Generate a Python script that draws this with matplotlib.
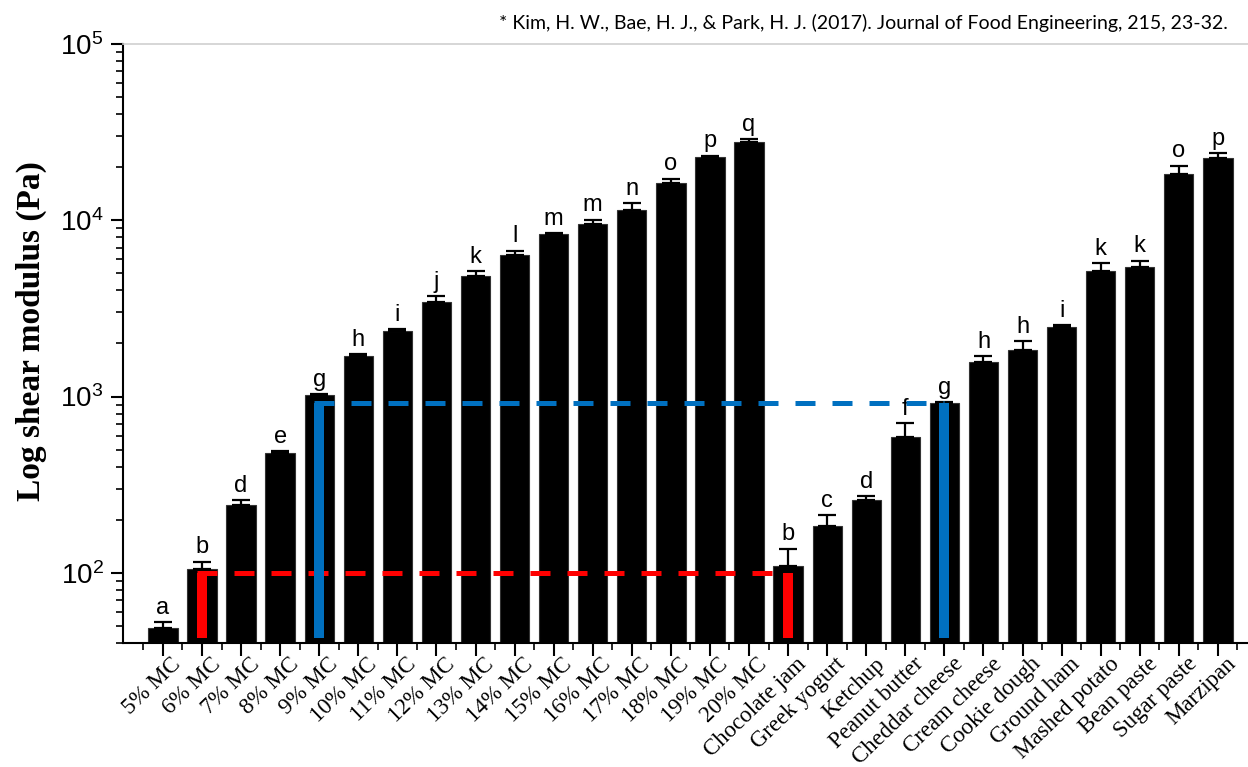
import numpy as np
import matplotlib
matplotlib.use('Agg')
import matplotlib.pyplot as plt
from matplotlib.ticker import LogLocator, FixedLocator, NullFormatter
import matplotlib.transforms as mtransforms

plt.rcParams['mathtext.default'] = 'regular'

# moisture content series
mc_labels = ['5% MC', '6% MC', '7% MC', '8% MC', '9% MC', '10% MC', '11% MC', '12% MC',
             '13% MC', '14% MC', '15% MC', '16% MC', '17% MC', '18% MC', '19% MC', '20% MC']
mc_vals = [48.7, 104.5, 241, 481, 1018, 1698, 2350, 3440, 4820, 6310, 8320, 9510,
           11370, 16320, 22910, 27720]
mc_err = [4, 11, 18, 9, 15, 40, 70, 260, 320, 420, 100, 550, 1100, 870, 300, 1000]
mc_letters = ['a', 'b', 'd', 'e', 'g', 'h', 'i', 'j', 'k', 'l', 'm', 'm', 'n', 'o', 'p', 'q']

# commercial foods
food_labels = ['Chocolate jam', 'Greek yogurt', 'Ketchup', 'Peanut butter', 'Cheddar cheese',
               'Cream cheese', 'Cookie dough', 'Ground ham', 'Mashed potato', 'Bean paste',
               'Sugar paste', 'Marzipan']
food_vals = [110, 184, 258, 593, 916, 1578, 1829, 2490, 5160, 5400, 18230, 22580]
food_err = [27, 28, 14, 113, 15, 120, 235, 40, 570, 510, 2200, 1400]
food_letters = ['b', 'c', 'd', 'f', 'g', 'h', 'h', 'i', 'k', 'k', 'o', 'p']

labels = mc_labels + food_labels
vals = np.array(mc_vals + food_vals)
errs = np.array(mc_err + food_err)
letters = mc_letters + food_letters
x = np.arange(len(labels))

# matching pairs: (MC sample, food sample, level)
red_pair = ('6% MC', 'Chocolate jam', 100)
blue_pair = ('9% MC', 'Cheddar cheese', 916)

fig = plt.figure(figsize=(12.48, 7.67), dpi=100)
ax = fig.add_axes([0.0986, 0.1617, 0.9014, 0.781])

ax.bar(x, vals, width=0.75, color='black', edgecolor='#333333', linewidth=0.8, zorder=2)
ax.errorbar(x, vals, yerr=[np.zeros_like(errs), errs], fmt='none', ecolor='black',
            elinewidth=1.6, capsize=6.8, capthick=1.6, zorder=3)

ax.set_yscale('log')
ax.set_ylim(40, 1e5)
ax.set_xlim(-1.02, 27.77)

# letters above bars
off = mtransforms.offset_copy(ax.transData, fig=fig, x=0, y=6, units='points')
for xi, v, e, s in zip(x, vals, errs, letters):
    ax.text(xi, v + e, s, transform=off, ha='center', va='baseline',
            fontsize=17, family='Liberation Sans', zorder=4)

# red and blue guide lines
y_low = 42.5
for (a, b, lvl), col in [(red_pair, '#ff0000'), (blue_pair, '#0070c0')]:
    xa = labels.index(a)
    xb = labels.index(b)
    ax.plot([xa - 0.13, xb], [lvl, lvl], color=col, lw=3.6,
            linestyle=(0, (4, 3.4)), zorder=5)
    ax.vlines([xa, xb], y_low, lvl, color=col, lw=7.2, zorder=5)

# axes styling
for side in ['left', 'bottom']:
    ax.spines[side].set_linewidth(1.5)
ax.spines['right'].set_visible(False)
ax.spines['top'].set_color('#cfcfcf')
ax.spines['top'].set_linewidth(1.2)

ax.set_yticks([1e2, 1e3, 1e4, 1e5])
ax.set_yticklabels(['$10^{2}$', '$10^{3}$', '$10^{4}$', '$10^{5}$'],
                   family='Liberation Sans', fontsize=20)
ax.yaxis.set_minor_locator(LogLocator(base=10, subs=np.arange(2, 10)))
ax.yaxis.set_minor_formatter(NullFormatter())
ax.tick_params(axis='y', which='major', direction='out', length=9, width=1.5, pad=5)
ax.tick_params(axis='y', which='minor', direction='out', length=5, width=1.2)

ax.set_xticks(x)
ax.xaxis.set_minor_locator(FixedLocator(np.arange(-0.5, 28, 1)))
ax.set_xticklabels(labels, rotation=44, ha='right', va='center', rotation_mode='anchor',
                   family='Liberation Serif', fontsize=16.5)
ax.tick_params(axis='x', which='major', direction='out', length=9, width=1.5, pad=4)
ax.tick_params(axis='x', which='minor', direction='out', length=5, width=1.2)
shift = mtransforms.ScaledTranslation(11 / 72, 0, fig.dpi_scale_trans)
for lab in ax.get_xticklabels():
    lab.set_transform(lab.get_transform() + shift)

ax.set_ylabel('Log shear modulus (Pa)', family='Liberation Serif', fontweight='bold',
              fontsize=24)
ax.yaxis.set_label_coords(-0.0676, 0.521)

fig.text(1228 / 1248, 1 - 23 / 767,
         '* Kim, H. W., Bae, H. J., & Park, H. J. (2017). Journal of Food Engineering, 215, 23-32.',
         ha='right', va='center', family='Lato', fontsize=14)

fig.savefig('out.png', dpi=100)
